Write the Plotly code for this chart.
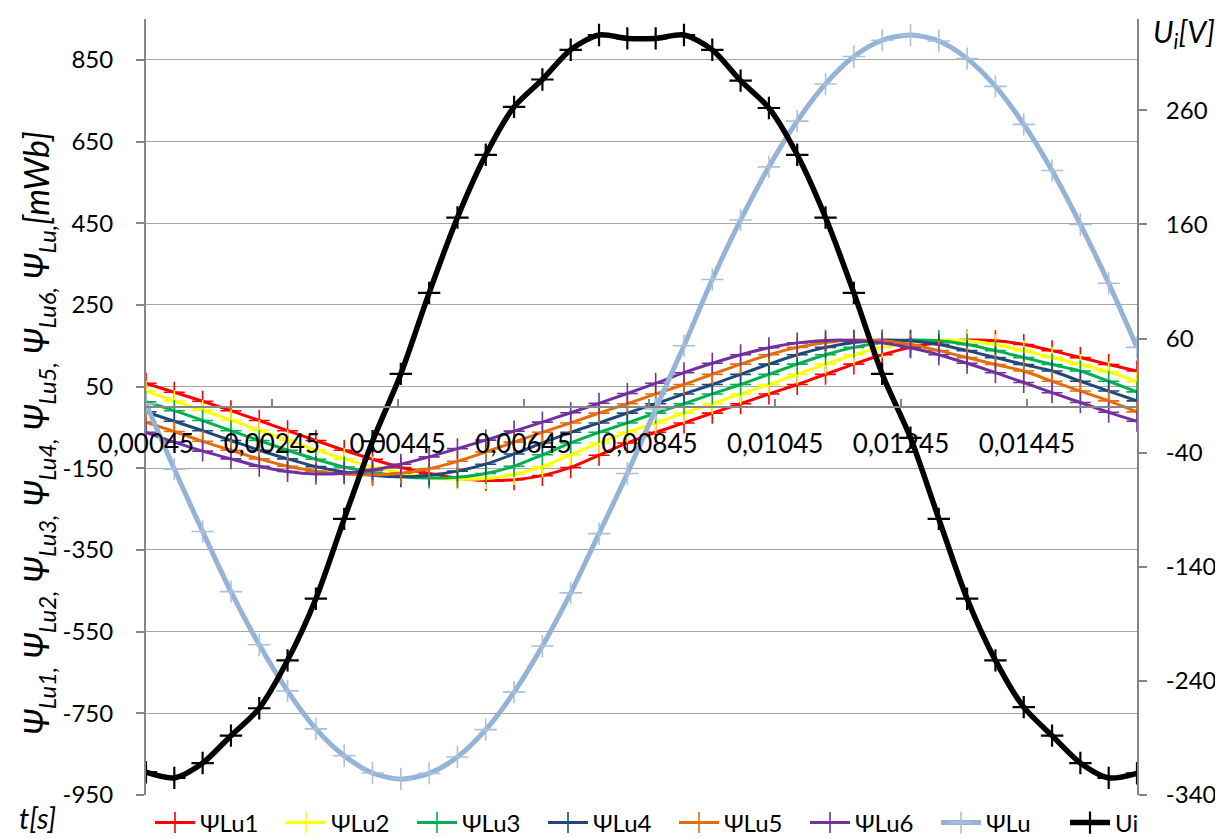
import plotly.graph_objects as go

# ---- data ----
t = [0.00045, 0.0009, 0.00135, 0.0018, 0.00225, 0.0027, 0.00315, 0.0036, 0.00405, 0.0045,
     0.00495, 0.0054, 0.00585, 0.0063, 0.00675, 0.0072, 0.00765, 0.0081, 0.00855, 0.009,
     0.00945, 0.0099, 0.01035, 0.0108, 0.01125, 0.0117, 0.01215, 0.0126, 0.01305, 0.0135,
     0.01395, 0.0144, 0.01485, 0.0153, 0.01575, 0.0162]

psi_lu1 = [58, 36, 14, -9, -33, -58, -82, -106, -128, -148, -163, -174, -180, -178, -168, -148, -118, -88,
           -62, -39, -15, 8, 32, 55, 80, 105, 128, 146, 158, 164, 162, 153, 138, 121, 104, 88]
psi_lu2 = [39, 15, -8, -32, -57, -81, -105, -127, -147, -161, -172, -177, -175, -165, -146, -117, -88, -62,
           -39, -15, 8, 32, 55, 80, 105, 128, 146, 158, 164, 162, 153, 138, 121, 104, 86, 62]
psi_lu3 = [13, -9, -33, -58, -82, -106, -128, -147, -160, -170, -174, -172, -163, -145, -117, -88, -62, -39,
           -15, 8, 32, 55, 80, 105, 128, 146, 158, 164, 162, 153, 138, 121, 104, 88, 63, 37]
psi_lu4 = [-12, -35, -58, -82, -106, -127, -146, -159, -167, -171, -167, -157, -140, -115, -88, -62, -39, -15,
           8, 32, 55, 80, 105, 128, 146, 158, 164, 162, 153, 138, 121, 104, 88, 63, 39, 15]
psi_lu5 = [-37, -60, -84, -106, -127, -145, -157, -164, -166, -162, -151, -133, -110, -86, -62, -39, -15, 8,
           32, 55, 80, 105, 128, 146, 158, 164, 162, 153, 138, 121, 104, 88, 63, 39, 15, -12]
psi_lu6 = [-62, -86, -108, -127, -145, -158, -164, -162, -154, -140, -122, -102, -81, -59, -37, -14, 9, 33,
           58, 84, 107, 128, 145, 157, 163, 163, 157, 145, 128, 107, 84, 60, 35, 11, -13, -35]
psi_lu = [8, -152, -305, -452, -582, -695, -788, -854, -896, -911, -897, -857, -790, -698, -585, -455, -310, -163,
          -5, 150, 312, 458, 588, 700, 791, 858, 898, 911, 896, 853, 785, 692, 579, 447, 303, 146]
u_i = [-320, -325, -312, -288, -264, -222, -168, -98, -30, 29, 100, 166, 221, 263, 287, 313, 326, 323,
       323, 326, 313, 286, 262, 221, 166, 100, 29, -27, -98, -168, -222, -263, -288, -312, -325, -321]

series_names = ["ΨLu1", "ΨLu2", "ΨLu3", "ΨLu4", "ΨLu5", "ΨLu6", "ΨLu", "Ui"]

x_tick_vals = [0.00045, 0.00245, 0.00445, 0.00645, 0.00845, 0.01045, 0.01245, 0.01445]
x_tick_text = ["0,00045", "0,00245", "0,00445", "0,00645", "0,00845", "0,01045", "0,01245", "0,01445"]
y_tick_vals = [-950, -750, -550, -350, -150, 50, 250, 450, 650, 850]
y_tick_text = ["-950", "-750", "-550", "-350", "-150", "50", "250", "450", "650", "850"]
y2_tick_vals = [-340, -240, -140, -40, 60, 160, 260]
y2_tick_text = ["-340", "-240", "-140", "-40", "60", "160", "260"]

# ---- styling ----
FONT = "Lato"
GRID = "#A6A6A6"
AXIS = "#868686"
colors = ["#FF0000", "#FFFF00", "#00B050", "#1F497D", "#E46C0A", "#7030A0", "#95B3D7", "#000000"]

fig = go.Figure()
small = [psi_lu1, psi_lu2, psi_lu3, psi_lu4, psi_lu5, psi_lu6]
for name, vals, col in zip(series_names[:6], small, colors[:6]):
    fig.add_trace(go.Scatter(
        x=t, y=vals, name=name, mode="lines+markers", yaxis="y", legend="legend",
        line=dict(color=col, width=3, shape="spline", smoothing=0.8),
        marker=dict(symbol="cross-thin", size=15, color=col, line=dict(color=col, width=1.6)),
    ))

fig.add_trace(go.Scatter(
    x=t, y=psi_lu, name=series_names[6], mode="lines+markers", yaxis="y", legend="legend",
    line=dict(color=colors[6], width=5, shape="spline", smoothing=0.8),
    marker=dict(symbol="cross-thin", size=16, color=colors[6], line=dict(color="#A9C1DF", width=1.6)),
))
fig.add_trace(go.Scatter(
    x=t, y=u_i, name=series_names[7], mode="lines+markers", yaxis="y2", legend="legend2",
    line=dict(color=colors[7], width=5.5, shape="spline", smoothing=0.8),
    marker=dict(symbol="cross-thin", size=16, color=colors[7], line=dict(color=colors[7], width=2.2)),
))

W, H = 1223, 838
L, R, T, B = 138, 94, 11, 51
LEG_Y = (H - 815) / H
leg_common = dict(orientation="h", xref="container", yref="container",
                  xanchor="left", y=LEG_Y, yanchor="middle",
                  font=dict(family=FONT, size=24, color="black"),
                  itemwidth=40, entrywidth=76, entrywidthmode="pixels",
                  tracegroupgap=0, bgcolor="rgba(0,0,0,0)")

fig.update_layout(
    width=W, height=H,
    margin=dict(l=L, r=R, t=T, b=B, autoexpand=False),
    paper_bgcolor="white", plot_bgcolor="white",
    font=dict(family=FONT, color="black", size=22),
    showlegend=True,
    legend=dict(x=142 / W, **leg_common),
    legend2=dict(x=1057 / W, **leg_common),
    xaxis=dict(range=[0.00045, 0.0162], tickmode="array", tickvals=x_tick_vals, ticktext=x_tick_text,
               anchor="free", position=0.5, side="bottom",
               showline=True, linecolor=AXIS, linewidth=1.5,
               ticks="inside", ticklen=7, tickcolor=AXIS, tickwidth=1.5,
               showgrid=False, zeroline=False,
               tickfont=dict(family=FONT, size=26, color="black"), ticklabelstandoff=14),
    yaxis=dict(range=[-950, 950], tickmode="array", tickvals=y_tick_vals, ticktext=y_tick_text,
               showgrid=True, gridcolor=GRID, gridwidth=1,
               showline=True, linecolor=AXIS, linewidth=2, zeroline=False,
               ticks="outside", ticklen=8, tickcolor=AXIS, tickwidth=1.5,
               tickfont=dict(family=FONT, size=24, color="black"), ticklabelstandoff=18),
    yaxis2=dict(range=[-340, 340], overlaying="y", side="right", anchor="x",
                tickmode="array", tickvals=y2_tick_vals, ticktext=y2_tick_text,
                showgrid=False, zeroline=False,
                showline=True, linecolor=AXIS, linewidth=2,
                ticks="outside", ticklen=8, tickcolor=AXIS, tickwidth=1.5,
                tickfont=dict(family=FONT, size=24, color="black"), ticklabelstandoff=14),
)

pw = W - L - R
ph = H - T - B

def px_to_paper(xp, yp):
    return (xp - L) / pw, (H - B - yp) / ph

left_title = ("<i>Ψ<sub>Lu1,</sub> Ψ<sub>Lu2,</sub> Ψ<sub>Lu3,</sub> Ψ<sub>Lu4,</sub> "
              "Ψ<sub>Lu5,</sub> Ψ<sub>Lu6,</sub> Ψ<sub>Lu,</sub>[mWb]</i>")
ax, ay = px_to_paper(30, 425)
fig.add_annotation(text=left_title, xref="paper", yref="paper", x=ax, y=ay,
                   textangle=-90, showarrow=False, xanchor="center", yanchor="middle",
                   font=dict(family=FONT, size=34, color="black"))

rx, ry = px_to_paper(1176, 25)
fig.add_annotation(text="<i>U<sub>i</sub>[V]</i>", xref="paper", yref="paper", x=rx, y=ry,
                   showarrow=False, xanchor="center", yanchor="middle",
                   font=dict(family=FONT, size=30, color="black"))

tx, ty = px_to_paper(29, 810)
fig.add_annotation(text="<i>t[s]</i>", xref="paper", yref="paper", x=tx, y=ty,
                   showarrow=False, xanchor="center", yanchor="middle",
                   font=dict(family=FONT, size=29, color="black"))

fig.write_html("out.html")
